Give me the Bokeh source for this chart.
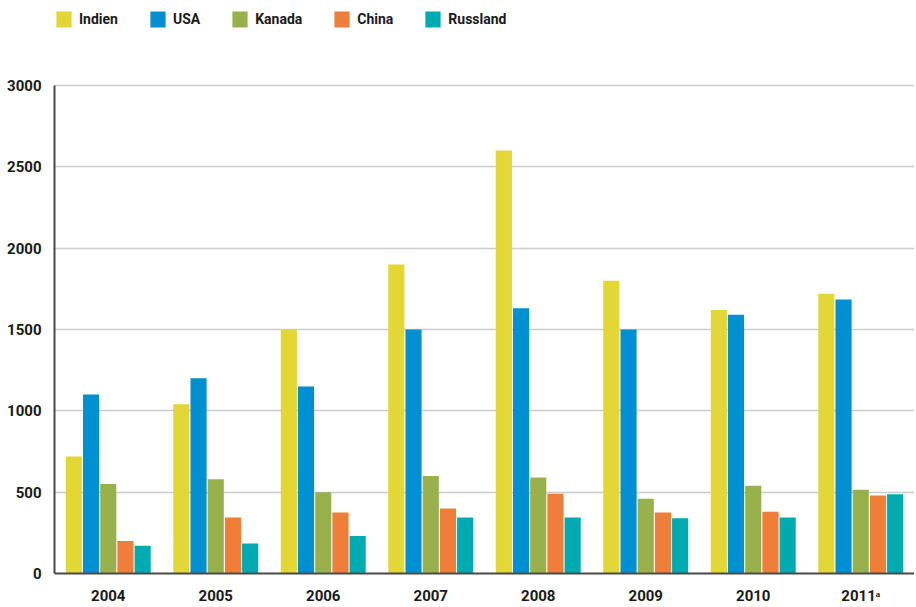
from bokeh.plotting import figure
from bokeh.models import FactorRange, Range1d, Legend, LegendItem, FixedTicker
from bokeh.transform import dodge
from bokeh.models import ColumnDataSource
from bokeh.embed import file_html
from bokeh.resources import INLINE

years = ["2004", "2005", "2006", "2007", "2008", "2009", "2010", "2011ᵃ"]
series_names = ["Indien", "USA", "Kanada", "China", "Russland"]
indien = [720, 1040, 1500, 1900, 2600, 1800, 1620, 1720]
usa = [1100, 1200, 1150, 1500, 1630, 1500, 1590, 1685]
kanada = [550, 580, 500, 600, 590, 460, 540, 515]
china = [200, 345, 375, 400, 490, 375, 380, 480]
russland = [170, 185, 230, 345, 345, 340, 345, 487]
y_ticks = [0, 500, 1000, 1500, 2000, 2500, 3000]
Y_MAX = 3000

colors = ["#E2D736", "#008FD1", "#98B14C", "#F07E3B", "#00AAB1"]
FONT = "Roboto"

src = ColumnDataSource(dict(year=years, Indien=indien, USA=usa, Kanada=kanada,
                            China=china, Russland=russland))

DATA_H = 488      # pixels from 0 to 3000
TOP = 85          # free space above the 3000 line (legend lives there)
FH = DATA_H + TOP
p = figure(x_range=FactorRange(*years, range_padding=0),
           y_range=Range1d(0, Y_MAX * FH / DATA_H),
           frame_width=860, frame_height=FH, output_backend="svg", toolbar_location=None,
           min_border_left=54, min_border_right=0, min_border_top=0, min_border_bottom=0)

offsets = [-0.32, -0.16, 0.0, 0.16, 0.32]
items = []
for name, col, off in zip(series_names, colors, offsets):
    r = p.vbar(x=dodge("year", off, range=p.x_range), top=name, width=0.15, source=src,
               fill_color=col, line_color=None)
    items.append(LegendItem(label=name, renderers=[r]))

legend = Legend(items=items, orientation="horizontal", location=(0, FH - 9 - 20),
                glyph_width=19, glyph_height=20, label_standoff=6, spacing=30,
                padding=0, margin=0, border_line_color=None, background_fill_alpha=0,
                label_text_font=FONT, label_text_font_style="bold",
                label_text_font_size="14px", label_text_color="#1a1a1a",
                label_height=20)
p.add_layout(legend, "center")

p.outline_line_color = None
p.xgrid.grid_line_color = None
p.ygrid.grid_line_color = "#cccccc"
p.ygrid.grid_line_width = 1.5
p.ygrid.ticker = FixedTicker(ticks=y_ticks)

p.yaxis.ticker = FixedTicker(ticks=y_ticks)
p.yaxis.bounds = (0, Y_MAX)
for ax in (p.xaxis[0], p.yaxis[0]):
    ax.axis_line_color = "#4a4a4a"
    ax.axis_line_width = 2
    ax.major_tick_line_color = None
    ax.minor_tick_line_color = None
    ax.major_tick_out = 0
    ax.major_tick_in = 0
    ax.minor_tick_out = 0
    ax.major_label_text_font = FONT
    ax.major_label_text_font_style = "bold"
    ax.major_label_text_color = "#1a1a1a"
p.yaxis.major_label_text_font_size = "15px"
p.xaxis.major_label_text_font_size = "15px"
p.yaxis.major_label_standoff = 13
p.xaxis.major_label_standoff = 13

open("out.html", "w").write(file_html(p, INLINE))
